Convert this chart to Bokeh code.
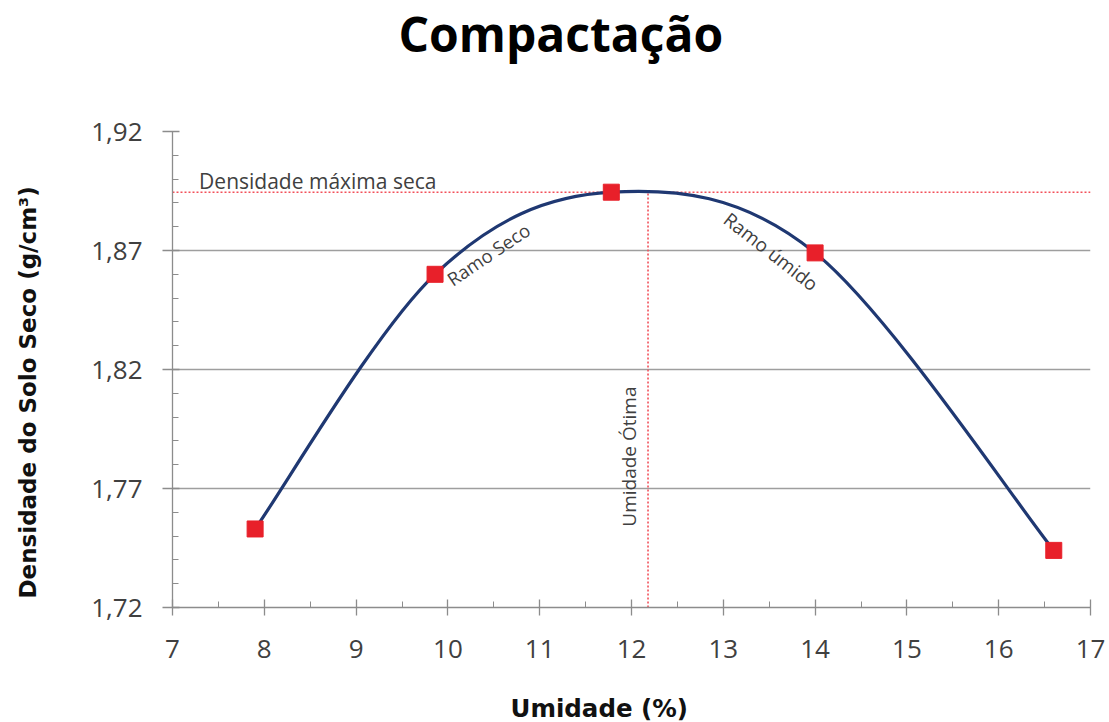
from bokeh.plotting import figure
from bokeh.models import FixedTicker, Label, Title
from bokeh.embed import file_html
from bokeh.resources import INLINE

# Ensaio de compactação: umidade (%) x densidade do solo seco (g/cm³)
umidade = [7.9, 9.86, 11.78, 14.0, 16.6]
densidade = [1.753, 1.860, 1.8945, 1.869, 1.744]

# Ponto ótimo
umidade_otima = 12.18
densidade_maxima = 1.8945

x_ticks = [7, 8, 9, 10, 11, 12, 13, 14, 15, 16, 17]
x_minor = [7.5, 8.5, 9.5, 10.5, 11.5, 12.5, 13.5, 14.5, 15.5, 16.5]
y_ticks = [1.72, 1.77, 1.82, 1.87, 1.92]
y_tick_labels = ["1,72", "1,77", "1,82", "1,87", "1,92"]
y_minor = [round(1.72 + 0.01 * i, 2) for i in range(21)]

p = figure(width=1109, height=722, x_range=(7, 17), y_range=(1.72, 1.92),
           title=None, output_backend="svg", toolbar_location=None,
           min_border_left=0, min_border_right=19,
           min_border_top=0, min_border_bottom=0)
p.outline_line_color = None
p.background_fill_color = "white"
p.border_fill_color = "white"

# Eixos
p.xaxis.ticker = FixedTicker(ticks=x_ticks, minor_ticks=x_minor)
p.yaxis.ticker = FixedTicker(ticks=y_ticks, minor_ticks=y_minor)
p.yaxis.major_label_overrides = dict(zip(y_ticks, y_tick_labels))
for ax in (p.xaxis, p.yaxis):
    ax.axis_line_color = "#8c8c8c"
    ax.axis_line_width = 1.3
    ax.major_tick_line_color = "#8c8c8c"
    ax.minor_tick_line_color = "#8c8c8c"
    ax.major_tick_line_width = 1.3
    ax.minor_tick_line_width = 1.0
    ax.major_label_text_font = "Open Sans"
    ax.major_label_text_font_size = "26px"
    ax.major_label_text_color = "#404040"
    ax.minor_tick_out = 0
    ax.minor_tick_in = 6
p.xaxis.major_tick_in = 8
p.xaxis.major_tick_out = 8
p.xaxis.major_label_standoff = 24
p.yaxis.major_tick_in = 7
p.yaxis.major_tick_out = 10
p.yaxis.major_label_standoff = 20

p.xgrid.grid_line_color = None
p.ygrid.grid_line_color = "#9e9e9e"
p.ygrid.grid_line_width = 1.3


def espaco(side, size, standoff):
    # faixa vazia entre o eixo e o título do lado
    p.add_layout(Title(text=" ", text_font="Open Sans", text_font_size=size,
                       standoff=standoff), side)


# Título do gráfico (acima)
espaco("above", "10px", 48)
p.add_layout(Title(text="Compactação", text_font="Open Sans", text_font_size="48px",
                   text_font_style="bold", text_color="#000000", align="left",
                   offset=226, vertical_align="top", standoff=0), "above")

# Rótulo do eixo x (abaixo)
espaco("below", "8px", 18)
p.add_layout(Title(text="Umidade (%)", text_font="DejaVu Sans", text_font_size="24.5px",
                   text_font_style="bold", text_color="#111111", align="left",
                   offset=338, vertical_align="bottom", standoff=0), "below")

# Rótulo do eixo y (à esquerda)
espaco("left", "8px", 19)
p.add_layout(Title(text="Densidade do Solo Seco (g/cm³)", text_font="DejaVu Sans",
                   text_font_size="23px", text_font_style="bold", text_color="#111111",
                   align="left", offset=9, vertical_align="top", standoff=28), "left")

# Linhas de referência do ponto ótimo
p.segment(x0=[7], y0=[densidade_maxima], x1=[17], y1=[densidade_maxima],
          line_color="#f2505a", line_width=1.6, line_dash="2 2")
p.segment(x0=[umidade_otima], y0=[1.72], x1=[umidade_otima], y1=[densidade_maxima],
          line_color="#f2505a", line_width=1.6, line_dash="2 2")

# Curva suavizada (Bézier cúbica entre pontos consecutivos)
n = len(umidade)
x0s, y0s, x1s, y1s, cx0, cy0, cx1, cy1 = [], [], [], [], [], [], [], []
for i in range(n - 1):
    a = max(i - 1, 0)
    b = min(i + 2, n - 1)
    x0s.append(umidade[i]); y0s.append(densidade[i])
    x1s.append(umidade[i + 1]); y1s.append(densidade[i + 1])
    cx0.append(umidade[i] + (umidade[i + 1] - umidade[a]) / 6)
    cy0.append(densidade[i] + (densidade[i + 1] - densidade[a]) / 6)
    cx1.append(umidade[i + 1] - (umidade[b] - umidade[i]) / 6)
    cy1.append(densidade[i + 1] - (densidade[b] - densidade[i]) / 6)
p.bezier(x0=x0s, y0=y0s, x1=x1s, y1=y1s, cx0=cx0, cy0=cy0, cx1=cx1, cy1=cy1,
         line_color="#1f3872", line_width=3.2)

p.scatter(umidade, densidade, marker="square", size=16,
          fill_color="#e8202a", line_color="#e8202a")

# Anotações dentro da área do gráfico
def texto(x, y, s, size, angle=0.0, align="center", baseline="middle"):
    p.add_layout(Label(x=x, y=y, text=s, text_font="Open Sans", text_font_size=size,
                       text_color="#404040", angle=angle, angle_units="deg",
                       text_align=align, text_baseline=baseline))

texto(7.29, 1.899, "Densidade máxima seca", "21px", align="left", baseline="alphabetic")
texto(10.44, 1.8685, "Ramo Seco", "18.5px", angle=34)
texto(13.52, 1.8695, "Ramo úmido", "19px", angle=-38)
texto(11.97, 1.7834, "Umidade Ótima", "19px", angle=90)

open("out.html", "w").write(file_html(p, INLINE))
